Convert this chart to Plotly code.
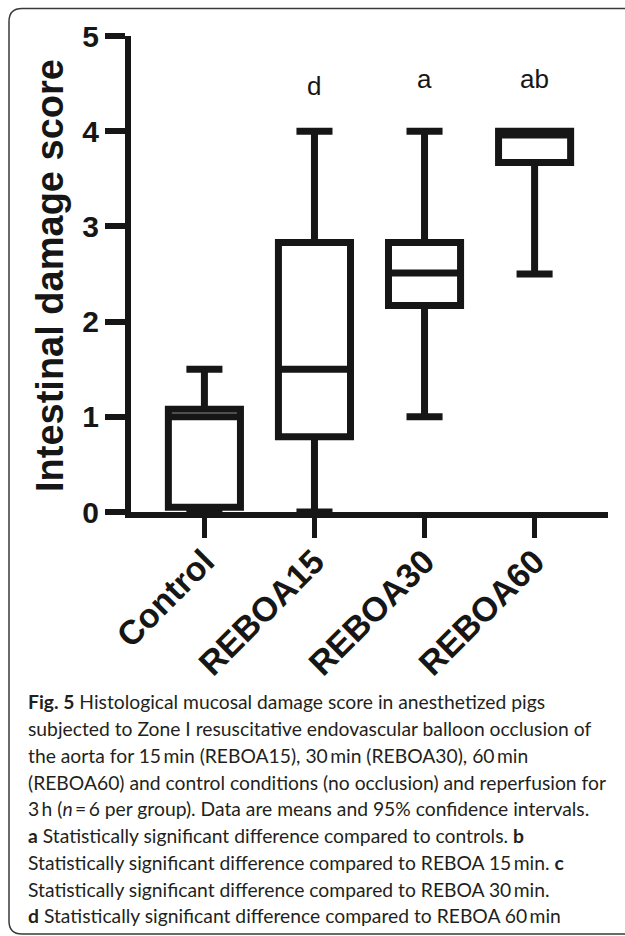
import plotly.graph_objects as go

# ---------------- data ----------------
categories = ["Control", "REBOA15", "REBOA30", "REBOA60"]
lower_whisker = [0.0, 0.0, 1.0, 2.5]
q1_values = [0.05, 0.79, 2.17, 3.67]
median_values = [1.0, 1.5, 2.51, 3.96]
q3_values = [1.08, 2.83, 2.83, 4.0]
upper_whisker = [1.5, 4.0, 4.0, 4.0]

sig_letters = ["", "d", "a", "ab"]
sig_letter_y = [None, 4.48, 4.55, 4.55]

y_ticks = [0, 1, 2, 3, 4, 5]
y_title = "Intestinal damage score"

caption_lines = [
    "<b>Fig. 5</b> Histological mucosal damage score in anesthetized pigs",
    "subjected to Zone I resuscitative endovascular balloon occlusion of",
    "the aorta for 15\u2009min (REBOA15), 30\u2009min (REBOA30), 60\u2009min",
    "(REBOA60) and control conditions (no occlusion) and reperfusion for",
    "3\u2009h (<i>n</i>\u2009=\u20096 per group). Data are means and 95% confidence intervals.",
    "<b>a</b> Statistically significant difference compared to controls. <b>b</b>",
    "Statistically significant difference compared to REBOA 15\u2009min. <b>c</b>",
    "Statistically significant difference compared to REBOA 30\u2009min.",
    "<b>d</b> Statistically significant difference compared to REBOA 60\u2009min",
]
caption_baselines_px = [708, 735, 762, 789, 815, 842, 869, 896, 922]

# ---------------- layout geometry ----------------
W, H = 625, 936
ML, MR, MT, MB = 131, 17, 36, 424
PW = W - ML - MR
PH = H - MT - MB

def px_x(px):
    return (px - ML) / PW

def px_y(py):
    return (H - MB - py) / PH

INK = "#161616"
TXT = "#231f20"

fig = go.Figure()

fig.add_trace(go.Box(
    x=categories,
    q1=q1_values,
    median=median_values,
    q3=q3_values,
    lowerfence=lower_whisker,
    upperfence=upper_whisker,
    boxpoints=False,
    width=0.655,
    whiskerwidth=0.5,
    fillcolor="white",
    line=dict(color=INK, width=7),
    showlegend=False,
    hoverinfo="skip",
))

annotations = []
for cat, letter, ly in zip(categories, sig_letters, sig_letter_y):
    if letter:
        annotations.append(dict(
            x=cat, y=ly, xref="x", yref="y", text=letter, showarrow=False,
            font=dict(family="Liberation Sans, Arial, sans-serif", size=26, color=INK),
            xanchor="center", yanchor="middle",
        ))

# y-axis title
annotations.append(dict(
    x=px_x(50), y=px_y(276), xref="paper", yref="paper", text="<b>%s</b>" % y_title,
    textangle=-90, showarrow=False,
    font=dict(family="Liberation Sans, Arial, sans-serif", size=38, color=INK),
    xanchor="center", yanchor="middle",
))

# caption
cap_size = 19.3
for line, base in zip(caption_lines, caption_baselines_px):
    annotations.append(dict(
        x=px_x(26), y=px_y(base - 0.32 * cap_size), xref="paper", yref="paper",
        text=line, showarrow=False, align="left",
        font=dict(family="Lato, Noto Sans, sans-serif", size=cap_size, color=TXT),
        xanchor="left", yanchor="middle",
    ))

# rounded frame (extends past the right edge)
L, T, R, B, r = 9, 8.5, 660, 934, 13
path = (
    f"M {px_x(L + r)},{px_y(T)} L {px_x(R)},{px_y(T)} "
    f"M {px_x(L + r)},{px_y(T)} Q {px_x(L)},{px_y(T)} {px_x(L)},{px_y(T + r)} "
    f"L {px_x(L)},{px_y(B - r)} Q {px_x(L)},{px_y(B)} {px_x(L + r)},{px_y(B)} "
    f"L {px_x(R)},{px_y(B)}"
)

fig.update_layout(
    width=W, height=H,
    margin=dict(l=ML, r=MR, t=MT, b=MB, pad=0),
    paper_bgcolor="white", plot_bgcolor="white",
    annotations=annotations,
    shapes=[dict(type="path", path=path, xref="paper", yref="paper",
                 line=dict(color="#3a3a3a", width=1.5))],
    xaxis=dict(
        type="category", categoryarray=categories, categoryorder="array",
        range=[-0.667, 3.667],
        showline=True, linecolor=INK, linewidth=6,
        ticks="outside", ticklen=20, tickwidth=5, tickcolor=INK,
        tickangle=-45, ticklabelstandoff=-10,
        tickfont=dict(family="Liberation Sans, Arial, sans-serif", size=34, color=INK, weight="bold"),
        showgrid=False, zeroline=False, fixedrange=True,
    ),
    yaxis=dict(
        range=[0, 5], tickvals=y_ticks, ticktext=[str(v) for v in y_ticks],
        showline=True, linecolor=INK, linewidth=6,
        ticks="outside", ticklen=20, tickwidth=6, tickcolor=INK,
        tickfont=dict(family="Liberation Sans, Arial, sans-serif", size=30, color=INK, weight="bold"),
        ticklabelstandoff=0,
        showgrid=False, zeroline=False, fixedrange=True,
    ),
)

fig.write_html(
    "out.html",
    config={"displayModeBar": False},
    post_script="document.body.style.margin='0';document.body.style.padding='0';",
)
